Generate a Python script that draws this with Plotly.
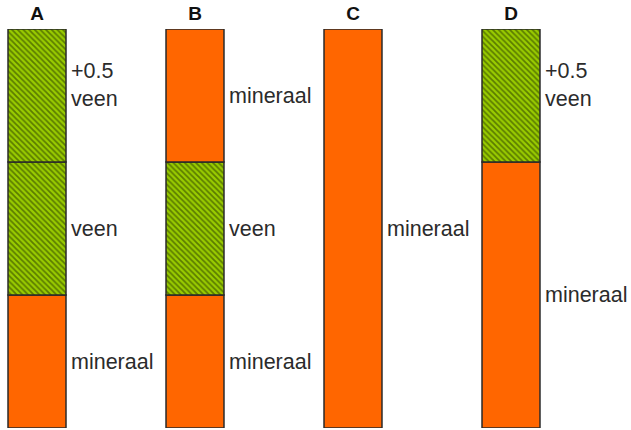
import plotly.graph_objects as go

columns = ["A", "B", "C", "D"]

# layers listed from bottom to top
A_material = ["mineraal", "veen", "veen"]
A_thickness = [1, 1, 1]
A_label = ["mineraal", "veen", "+0.5<br>veen"]

B_material = ["mineraal", "veen", "mineraal"]
B_thickness = [1, 1, 1]
B_label = ["mineraal", "veen", "mineraal"]

C_material = ["mineraal"]
C_thickness = [3]
C_label = ["mineraal"]

D_material = ["mineraal", "veen"]
D_thickness = [2, 1]
D_label = ["mineraal", "+0.5<br>veen"]

profiles = {
    "A": (A_material, A_thickness, A_label),
    "B": (B_material, B_thickness, B_label),
    "C": (C_material, C_thickness, C_label),
    "D": (D_material, D_thickness, D_label),
}

ORANGE = "#ff6600"
GREEN = "#99cc00"
HATCH = "#1e2b00"
TEXT = "#2b2b2b"
BAR_W = 0.367

fig = go.Figure()
annotations = []
for col in columns:
    mats, thick, labels = profiles[col]
    base = 0
    for m, t, lab in zip(mats, thick, labels):
        if m == "veen":
            marker = dict(color=GREEN,
                          pattern=dict(shape="\\", fgcolor=HATCH, bgcolor=GREEN,
                                       size=4, solidity=0.45, fillmode="overlay"),
                          line=dict(color="#2a2a2a", width=1.5))
        else:
            marker = dict(color=ORANGE, line=dict(color="#2a2a2a", width=1.5))
        fig.add_trace(go.Bar(x=[col], y=[t], base=[base], width=BAR_W,
                             marker=marker, showlegend=False, hoverinfo="skip"))
        multiline = "<br>" in lab
        annotations.append(dict(x=col, y=base + t / 2, xref="x", yref="y",
                                text=lab, showarrow=False, xanchor="left",
                                yanchor="middle", align="left", xshift=32,
                                yshift=11 if multiline else 0,
                                font=dict(family="Liberation Sans, Arial", size=21.5,
                                          color=TEXT)))
        base += t

fig.update_layout(
    width=631, height=430,
    margin=dict(l=0, r=0, t=29, b=2),
    paper_bgcolor="white", plot_bgcolor="white",
    barmode="overlay",
    annotations=annotations,
    xaxis=dict(type="category", categoryorder="array", categoryarray=columns,
               range=[-0.2342, 3.7595], side="top", showgrid=False,
               zeroline=False, showline=False, ticks="", automargin=False,
               tickfont=dict(family="Liberation Sans, Arial", size=19,
                             color="#111111", weight="bold"),
               ticklabelstandoff=4),
    yaxis=dict(range=[0, 3], visible=False, showgrid=False, zeroline=False,
               automargin=False),
)

fig.write_html("out.html",
               config={"displayModeBar": False, "staticPlot": True},
               post_script="document.body.style.margin='0';"
                           "document.body.style.overflow='hidden';")
